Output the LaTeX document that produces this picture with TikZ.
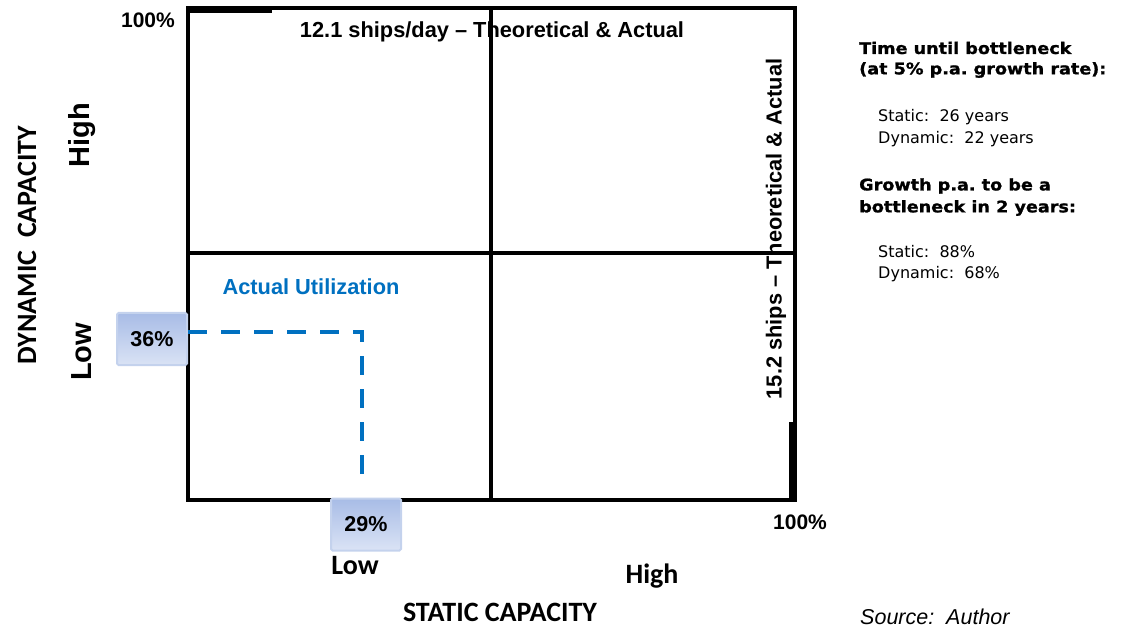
\documentclass[tikz,border=0pt]{standalone}
\usepackage{fontspec}
\setmainfont{Liberation Sans}
\newfontfamily\calib{Carlito}
\newfontfamily\verd{DejaVu Sans}
\newfontfamily\verdb[FakeStretch=1.1,FakeBold=1.2]{DejaVu Sans Bold}
\definecolor{ublue}{RGB}{0,112,192}
\definecolor{boxtop}{RGB}{168,188,230}
\definecolor{boxbot}{RGB}{218,227,245}
\definecolor{boxline}{RGB}{196,210,237}
\tikzset{
  frame/.style={line width=4pt},
  pctbox/.style={minimum width=70pt,minimum height=52pt,top color=boxtop,bottom color=boxbot,draw=boxline,line width=2pt,rounded corners=1.5pt,inner sep=0pt,font=\fontsize{21.5}{25}\selectfont\bfseries},
  lbl/.style={inner sep=0pt,font=\fontsize{21}{25}\selectfont\bfseries},
  ship/.style={inner sep=0pt,font=\fontsize{21.8}{25}\selectfont\bfseries},
  axis/.style={inner sep=0pt,font=\calib\fontsize{28}{33}\selectfont\bfseries},
  bigaxis/.style={inner sep=0pt,font=\fontsize{29}{34}\selectfont\bfseries},
  sidehead/.style={inner sep=0pt,anchor=west,font=\verdb\fontsize{16}{19}\selectfont\frenchspacing},
  sidetxt/.style={inner sep=0pt,anchor=west,font=\verd\fontsize{16}{19}\selectfont},
  util/.style={ublue,line width=4.5pt,dash pattern=on 19pt off 14pt}
}
\begin{document}
\begin{tikzpicture}[x=1pt,y=-1pt]
\useasboundingbox (0,0) rectangle (1135,628);
% grid
\draw[frame] (188,8) rectangle (795,499.5);
\draw[frame] (490.5,8) -- (490.5,499.5);
\draw[frame] (188,253) -- (795,253);
\fill (188,6) rectangle (272,13);
\fill (789,422) rectangle (797,499.5);
% labels
\node[lbl] (tl100) at (148,20) {100\%};
\node[lbl] (br100) at (800,522) {100\%};
\node[ship] (shipsday) at (492,32) {12.1 ships/day -- Theoretical \& Actual};
\node[ship,rotate=90] (shipsv) at (776,229) {15.2 ships -- Theoretical \& Actual};
\node[ship,ublue] (actual) at (311,287) {Actual Utilization};
% percent boxes
\node[pctbox] (p36) at (152,339) {36\%};
\node[pctbox] (p29) at (366,524.5) {29\%};
\coordinate (corner) at (362,332);
\coordinate (dend) at (362,484);
\draw[util] (p36.east |- corner) -- (corner) -- (dend);
% axes
\node[axis] (lowx) at (355,566) {Low};
\node[axis] (highx) at (652,576) {High};
\node[axis] (static) at (500,612) {STATIC CAPACITY};
\node[axis,rotate=90] (dynamic) at (27,245) {DYNAMIC\ \ CAPACITY};
\node[bigaxis,rotate=90] (highy) at (82,135) {High};
\node[bigaxis,rotate=90] (lowy) at (82,352) {Low};
% side notes
\node[sidehead] (h1) at (859,48) {Time until bottleneck};
\node[sidehead] (h2) at (859,70) {(at 5\% p.a. growth rate):};
\node[sidetxt] (s1) at (878,117) {Static:\ \ 26 years};
\node[sidetxt] (s2) at (878,139) {Dynamic:\ \ 22 years};
\node[sidehead] (h3) at (859,186) {Growth p.a. to be a};
\node[sidehead] (h4) at (859,208) {bottleneck in 2 years:};
\node[sidetxt] (s3) at (878,252) {Static:\ \ 88\%};
\node[sidetxt] (s4) at (878,274) {Dynamic:\ \ 68\%};
\node[inner sep=0pt,anchor=west,font=\fontsize{21.5}{25}\selectfont\itshape] (src) at (860,617) {Source:\ \ Author};
\end{tikzpicture}
\end{document}
